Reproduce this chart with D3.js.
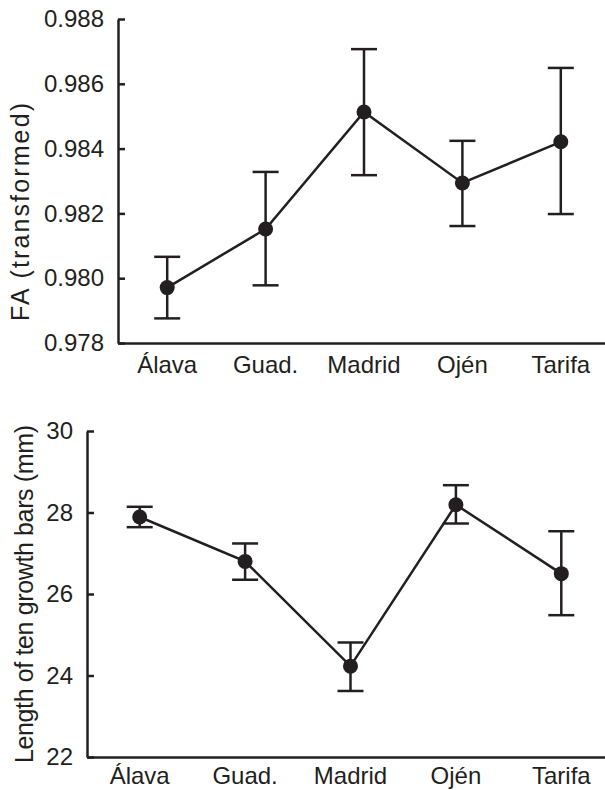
<!DOCTYPE html>
<html>
<head>
<meta charset="utf-8">
<script src="https://cdn.jsdelivr.net/npm/d3@7"></script>
<style>
  body { margin: 0; background: #fff; }
  text { font-family: "Liberation Sans", Arial, Helvetica, sans-serif; fill: #231f20; }
</style>
</head>
<body>
<div id="chart"></div>
<script>

// sites (x categories)
var sites = ["Álava", "Guad.", "Madrid", "Ojén", "Tarifa"];

// top panel: FA (transformed)
var fa_mean  = [0.97971, 0.98152, 0.98513, 0.98294, 0.98421];
var fa_upper = [0.98066, 0.98328, 0.98707, 0.98424, 0.98649];
var fa_lower = [0.97876, 0.97978, 0.98318, 0.98161, 0.98198];
var fa_ticks = [0.978, 0.980, 0.982, 0.984, 0.986, 0.988];

// bottom panel: length of ten growth bars (mm)
var len_mean  = [27.89, 26.80, 24.23, 28.19, 26.50];
var len_upper = [28.14, 27.24, 24.81, 28.67, 27.54];
var len_lower = [27.64, 26.35, 23.62, 27.73, 25.48];
var len_ticks = [22, 24, 26, 28, 30];

var ink = "#231f20";
var lw = 2.5;

var svg = d3.select("#chart")
  .append("svg")
    .attr("width", 605)
    .attr("height", 790);

function draw_panel(opt)
{
  var g = svg.append("g");

  var x = d3.scaleBand()
    .domain(sites)
    .range(opt.xrange)
    .paddingInner(0).paddingOuter(0);

  var y = d3.scaleLinear()
    .domain(opt.ydomain)
    .range(opt.yrange);

  var cx = function (d, i) { return x(sites[i]) + x.bandwidth() / 2; };

  // y axis, ticks pointing inward
  var ya = g.append("g")
    .attr("transform", "translate(" + opt.xrange[0] + ",0)")
    .call(d3.axisLeft(y)
      .tickValues(opt.ticks)
      .tickFormat(opt.fmt)
      .tickSizeInner(-7)
      .tickSizeOuter(0)
      .tickPadding(14));
  ya.select(".domain").attr("stroke", ink).attr("stroke-width", lw);
  ya.selectAll(".tick line").attr("stroke", ink).attr("stroke-width", lw);
  ya.selectAll(".tick text")
    .style("font-size", "24px")
    .attr("fill", ink);

  // x axis, no ticks
  var xa = g.append("g")
    .attr("transform", "translate(0," + opt.yrange[0] + ")")
    .call(d3.axisBottom(x).tickSize(0).tickPadding(opt.xpad));
  xa.select(".domain").attr("stroke", ink).attr("stroke-width", lw);
  xa.selectAll(".tick text")
    .style("font-size", "24px")
    .attr("fill", ink);

  // y label
  g.append("text")
    .attr("transform", "translate(" + opt.lx + "," + opt.ly + ") rotate(-90)")
    .style("text-anchor", "middle")
    .style("font-size", "25px")
    .attr("textLength", opt.llen)
    .attr("lengthAdjust", "spacing")
    .text(opt.label);

  // error bars
  g.append("g")
    .selectAll("line")
    .data(opt.mean)
    .enter()
    .append("line")
      .attr("x1", cx).attr("x2", cx)
      .attr("y1", function (d, i) { return y(opt.upper[i]); })
      .attr("y2", function (d, i) { return y(opt.lower[i]); })
      .attr("stroke", ink).attr("stroke-width", lw);

  var caps = opt.upper.concat(opt.lower);
  g.append("g")
    .selectAll("line")
    .data(caps)
    .enter()
    .append("line")
      .attr("x1", function (d, i) { return cx(d, i % 5) - 13; })
      .attr("x2", function (d, i) { return cx(d, i % 5) + 13; })
      .attr("y1", function (d) { return y(d); })
      .attr("y2", function (d) { return y(d); })
      .attr("stroke", ink).attr("stroke-width", lw);

  // connecting line
  g.append("path")
    .datum(opt.mean)
    .attr("fill", "none")
    .attr("stroke", ink)
    .attr("stroke-width", lw)
    .attr("d", d3.line()
      .x(function (d, i) { return cx(d, i); })
      .y(function (d) { return y(d); }));

  // points
  g.append("g")
    .selectAll("circle")
    .data(opt.mean)
    .enter()
    .append("circle")
      .attr("cx", cx)
      .attr("cy", function (d) { return y(d); })
      .attr("r", 7.5)
      .style("fill", ink);
}

draw_panel({
  xrange: [118, 610],
  ydomain: [0.978, 0.988],
  yrange: [343, 19],
  ticks: fa_ticks,
  fmt: d3.format(".3f"),
  mean: fa_mean, upper: fa_upper, lower: fa_lower,
  xpad: 13,
  label: "FA (transformed)",
  lx: 29, ly: 212, llen: 218
});

draw_panel({
  xrange: [87, 614],
  ydomain: [22, 30],
  yrange: [757, 431],
  ticks: len_ticks,
  fmt: d3.format("d"),
  mean: len_mean, upper: len_upper, lower: len_lower,
  xpad: 10,
  label: "Length of ten growth bars (mm)",
  lx: 33, ly: 594, llen: 338
});

</script>
</body>
</html>
